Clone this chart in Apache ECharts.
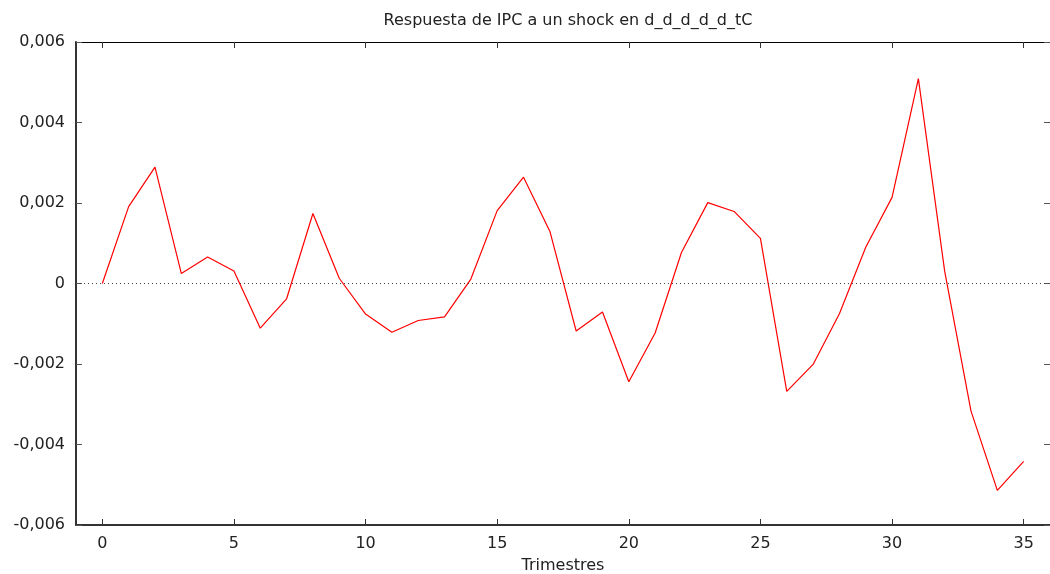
<!DOCTYPE html>
<html>
<head>
<meta charset="utf-8">
<title>Respuesta de IPC</title>
<script src="https://cdn.jsdelivr.net/npm/echarts@6/dist/echarts.min.js"></script>
<style>
  html, body { margin: 0; padding: 0; background: #fff; }
  #chart { width: 1050px; height: 574px; }
</style>
</head>
<body>
<div id="chart"></div>
<script>
// trimestres 0..35
const periods = [0, 1, 2, 3, 4, 5, 6, 7, 8, 9, 10, 11, 12, 13, 14, 15, 16, 17,
  18, 19, 20, 21, 22, 23, 24, 25, 26, 27, 28, 29, 30, 31, 32, 33, 34, 35]
// respuesta de IPC
const response = [0, 0.00191, 0.00289, 0.00025, 0.00066, 0.00031, -0.00111, -0.00038,
  0.00174, 0.00013, -0.00076, -0.00121, -0.00092, -0.00083, 0.00011, 0.00181,
  0.00264, 0.0013, -0.00118, -0.00071, -0.00244, -0.00123, 0.00077, 0.00201,
  0.00179, 0.00112, -0.00268, -0.00201, -0.00075, 0.0009, 0.00214, 0.00509,
  0.0003, -0.00317, -0.00514, -0.00442]
const xTicks = [0, 5, 10, 15, 20, 25, 30, 35]
const yTicks = [-0.006, -0.004, -0.002, 0, 0.002, 0.004, 0.006]

const chart = echarts.init(document.getElementById('chart'))
const font = 'DejaVu Sans'
const gridLeft = 76
const plotWidth = 1050 - gridLeft
const fmtY = (v) => {
  if (Math.abs(v) < 1e-9) return '0'
  return v.toFixed(3).replace('.', ',')
}

// eje y sin etiquetas, solo marcas
const tickOnlyY = (offset, inside) => ({
  type: 'value',
  min: yTicks[0],
  max: yTicks[yTicks.length - 1],
  position: 'right',
  offset: offset,
  splitLine: { show: false },
  axisLine: { show: false, onZero: false },
  axisTick: { show: true, inside: inside, length: 6, customValues: yTicks, lineStyle: { color: '#555' } },
  axisLabel: { show: false }
})

const option = {
  animation: false,
  title: {
    text: 'Respuesta de IPC a un shock en d_d_d_d_d_tC',
    left: 563,
    top: 8,
    textAlign: 'center',
    textStyle: { fontFamily: font, fontSize: 16, fontWeight: 'normal', color: '#222' }
  },
  grid: { left: gridLeft, right: 0, top: 42, bottom: 49, outerBoundsMode: 'none' },
  xAxis: [{
    type: 'value',
    min: -1,
    max: 36,
    position: 'bottom',
    name: 'Trimestres',
    nameLocation: 'middle',
    nameGap: 33,
    nameTextStyle: { fontFamily: font, fontSize: 16, color: '#222' },
    splitLine: { show: false },
    axisLine: { onZero: false, lineStyle: { color: '#333', width: 2 } },
    axisTick: { inside: true, length: 6, customValues: xTicks, lineStyle: { color: '#333' } },
    axisLabel: { customValues: xTicks, margin: 11, fontFamily: font, fontSize: 16, color: '#222' }
  }, {
    type: 'value',
    min: -1,
    max: 36,
    position: 'top',
    splitLine: { show: false },
    axisLine: { onZero: false, lineStyle: { color: '#000', width: 1 } },
    axisTick: { inside: true, length: 6, customValues: xTicks, lineStyle: { color: '#333' } },
    axisLabel: { show: false }
  }],
  yAxis: [{
    type: 'value',
    min: yTicks[0],
    max: yTicks[yTicks.length - 1],
    position: 'left',
    splitLine: { show: false },
    axisLine: { onZero: false, lineStyle: { color: '#333', width: 2 } },
    axisTick: { show: false },
    axisLabel: { customValues: yTicks, margin: 11, formatter: fmtY, fontFamily: font, fontSize: 16, color: '#222' }
  }, tickOnlyY(0, true), tickOnlyY(-plotWidth, false)],
  series: [{
    type: 'line',
    data: periods.map((p, i) => [p, response[i]]),
    showSymbol: false,
    lineStyle: { color: '#ff0000', width: 1.2 },
    markLine: {
      silent: true,
      symbol: 'none',
      label: { show: false },
      lineStyle: { type: [1, 3], color: '#444', width: 1 },
      data: [{ yAxis: 0 }]
    }
  }]
}
chart.setOption(option)
</script>
</body>
</html>
